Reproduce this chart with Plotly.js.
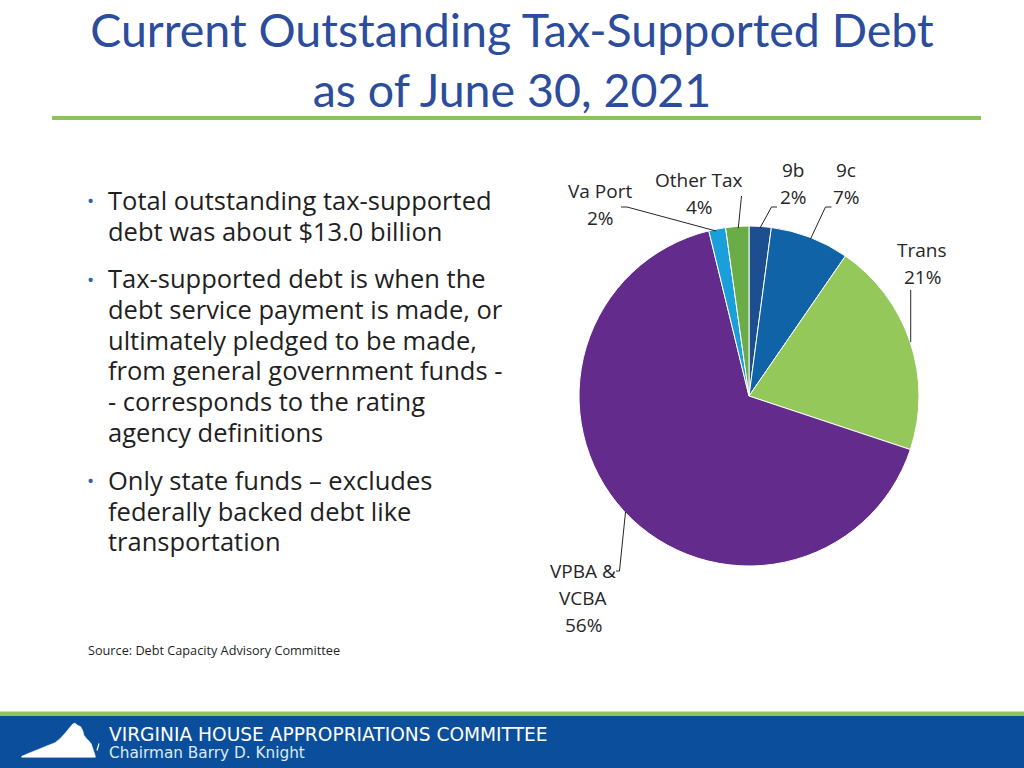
<!DOCTYPE html>
<html>
<head>
<meta charset="utf-8">
<script src="https://cdn.plot.ly/plotly-3.0.1.min.js"></script>
<style>
  html, body { margin: 0; padding: 0; background: #ffffff; }
  #chart { width: 1024px; height: 768px; }
</style>
</head>
<body>
<div id="chart"></div>
<script>
// ---- Data ----
const categories = ['9b', '9c', 'Trans', 'VPBA & VCBA', 'Va Port', 'Other Tax'];
// slice sizes as they appear in the pie (share of total, %)
const sliceValues = [2.1, 7.5, 20.5, 66.1, 1.6, 2.2];
// percentage labels printed on the chart
const pctLabels = ['2%', '7%', '21%', '56%', '2%', '4%'];
const labelLines = [['9b'], ['9c'], ['Trans'], ['VPBA &', 'VCBA'], ['Va Port'], ['Other Tax']];
const sliceColors = ['#1d4e8f', '#1063a7', '#94c85a', '#632b8c', '#1a9fdb', '#6aac48'];

const titleText = 'Current Outstanding Tax-Supported Debt<br>as of June 30, 2021';
const bullets = [
  ['Total outstanding tax-supported', 'debt was about $13.0 billion'],
  ['Tax-supported debt is when the', 'debt service payment is made, or', 'ultimately pledged to be made,',
   'from general government funds -', '- corresponds to the rating', 'agency definitions'],
  ['Only state funds \u2013 excludes', 'federally backed debt like', 'transportation']
];
const sourceText = 'Source: Debt Capacity Advisory Committee';
const footerLine1 = 'VIRGINIA HOUSE APPROPRIATIONS COMMITTEE';
const footerLine2 = 'Chairman Barry D. Knight';

// ---- Layout helpers (page pixels -> paper coords) ----
const W = 1024, H = 768;
const px = x => x / W;
const py = y => 1 - y / H;
function path(pts) {
  return 'M' + pts.map(p => px(p[0]).toFixed(5) + ',' + py(p[1]).toFixed(5)).join('L');
}

// label positions (first-line centre) and leader lines, page pixels
const labelPos = [[793, 170], [846, 170], [922, 250], [583, 571], [600, 191], [699, 180]];
const leaders = [
  [[777, 207], [771.5, 207], [760, 228]],
  [[831.5, 207], [825.5, 207], [810.5, 239]],
  [[910.7, 290], [910.7, 342]],
  [[616, 571], [619.5, 571], [625.5, 512]],
  [[621, 207], [627, 207], [716, 231]],
  [[741.5, 196], [738.3, 228]]
];

const annotations = [];
const shapes = [];

// pie labels (name lines + percentage) with 27px line pitch
const LBL_FONT = {family: 'Open Sans, sans-serif', size: 19, color: '#262626'};
categories.forEach((c, i) => {
  const lines = labelLines[i].concat([pctLabels[i]]);
  lines.forEach((t, k) => {
    annotations.push({
      text: t, showarrow: false, xref: 'paper', yref: 'paper',
      x: px(labelPos[i][0]), y: py(labelPos[i][1] + 27 * k),
      xanchor: 'center', yanchor: 'middle', font: LBL_FONT
    });
  });
  shapes.push({type: 'path', xref: 'paper', yref: 'paper', path: path(leaders[i]),
               line: {color: '#262626', width: 1}});
});

// bullets, one annotation per line with 30.6px pitch
const bulletTops = [200, 278.5, 480];
bullets.forEach((para, i) => {
  para.forEach((line, k) => {
    annotations.push({
      text: line, showarrow: false, xref: 'paper', yref: 'paper', align: 'left',
      x: px(106), y: py(bulletTops[i] + 30.6 * k), xanchor: 'left', yanchor: 'middle',
      font: {family: 'Open Sans, sans-serif', size: 25.5, color: '#1f1f1f'}
    });
  });
  annotations.push({
    text: '\u2022', showarrow: false, xref: 'paper', yref: 'paper',
    x: px(90), y: py(bulletTops[i] + 1), xanchor: 'center', yanchor: 'middle',
    font: {family: 'Open Sans, sans-serif', size: 19, color: '#2e5fa8'}
  });
});

// source
annotations.push({
  text: sourceText, showarrow: false, xref: 'paper', yref: 'paper',
  x: px(86), y: py(650), xanchor: 'left', yanchor: 'middle',
  font: {family: 'Open Sans, sans-serif', size: 12.7, color: '#1f1f1f'}
});

// footer texts
annotations.push({
  text: footerLine1, showarrow: false, xref: 'paper', yref: 'paper',
  x: px(107), y: py(734), xanchor: 'left', yanchor: 'middle',
  font: {family: 'DejaVu Sans, sans-serif', size: 18.6, color: '#ffffff'}
});
annotations.push({
  text: footerLine2, showarrow: false, xref: 'paper', yref: 'paper',
  x: px(107), y: py(752.5), xanchor: 'left', yanchor: 'middle',
  font: {family: 'DejaVu Sans, sans-serif', size: 15.3, color: '#dbe9f8'}
});

// title underline
shapes.push({type: 'rect', xref: 'paper', yref: 'paper', x0: px(52), x1: px(981), y0: py(116), y1: py(120),
             fillcolor: '#8cc35c', line: {width: 0}});
// footer bands
shapes.push({type: 'rect', xref: 'paper', yref: 'paper', x0: 0, x1: 1, y0: py(711.5), y1: py(716),
             fillcolor: '#8dc55c', line: {width: 0}, layer: 'below'});
shapes.push({type: 'rect', xref: 'paper', yref: 'paper', x0: 0, x1: 1, y0: 0, y1: py(716),
             fillcolor: '#0b4f9c', line: {width: 0}, layer: 'below'});
// Virginia silhouette
const vaZoom = [[35,133],[60,122],[90,110],[115,100],[135,92],[150,80],[165,64],[178,48],[188,36],[195,33],
                [203,40],[212,44],[218,55],[222,70],[230,80],[238,88],[244,96],[248,108],[252,120],[256,132],[256,136],[35,136]];
const vaPts = vaZoom.map(p => [10 + p[0] / 3, 712 + p[1] / 3]);
shapes.push({type: 'path', xref: 'paper', yref: 'paper', path: path(vaPts) + 'Z',
             fillcolor: '#ffffff', line: {color: '#ffffff', width: 0.5}});
shapes.push({type: 'path', xref: 'paper', yref: 'paper', path: path([[99, 743.5], [97, 750.5]]),
             line: {color: '#ffffff', width: 1.2}});

const trace = {
  type: 'pie',
  labels: categories,
  values: sliceValues,
  sort: false,
  direction: 'clockwise',
  rotation: 0,
  textinfo: 'none',
  hoverinfo: 'label+percent',
  marker: {colors: sliceColors, line: {color: '#ffffff', width: 1}},
  domain: {x: [px(749 - 170), px(749 + 170)], y: [py(566), py(226)]},
  showlegend: false
};

const layout = {
  width: W, height: H,
  margin: {l: 0, r: 0, t: 0, b: 0},
  paper_bgcolor: '#ffffff',
  title: {
    text: titleText,
    font: {family: 'Lato, sans-serif', size: 46.5, color: '#2c4c9c'},
    x: 0.5, xanchor: 'center', y: py(47), yanchor: 'top', yref: 'container'
  },
  showlegend: false,
  annotations: annotations,
  shapes: shapes
};

Plotly.newPlot('chart', [trace], layout, {displayModeBar: false, staticPlot: true});
</script>
</body>
</html>
